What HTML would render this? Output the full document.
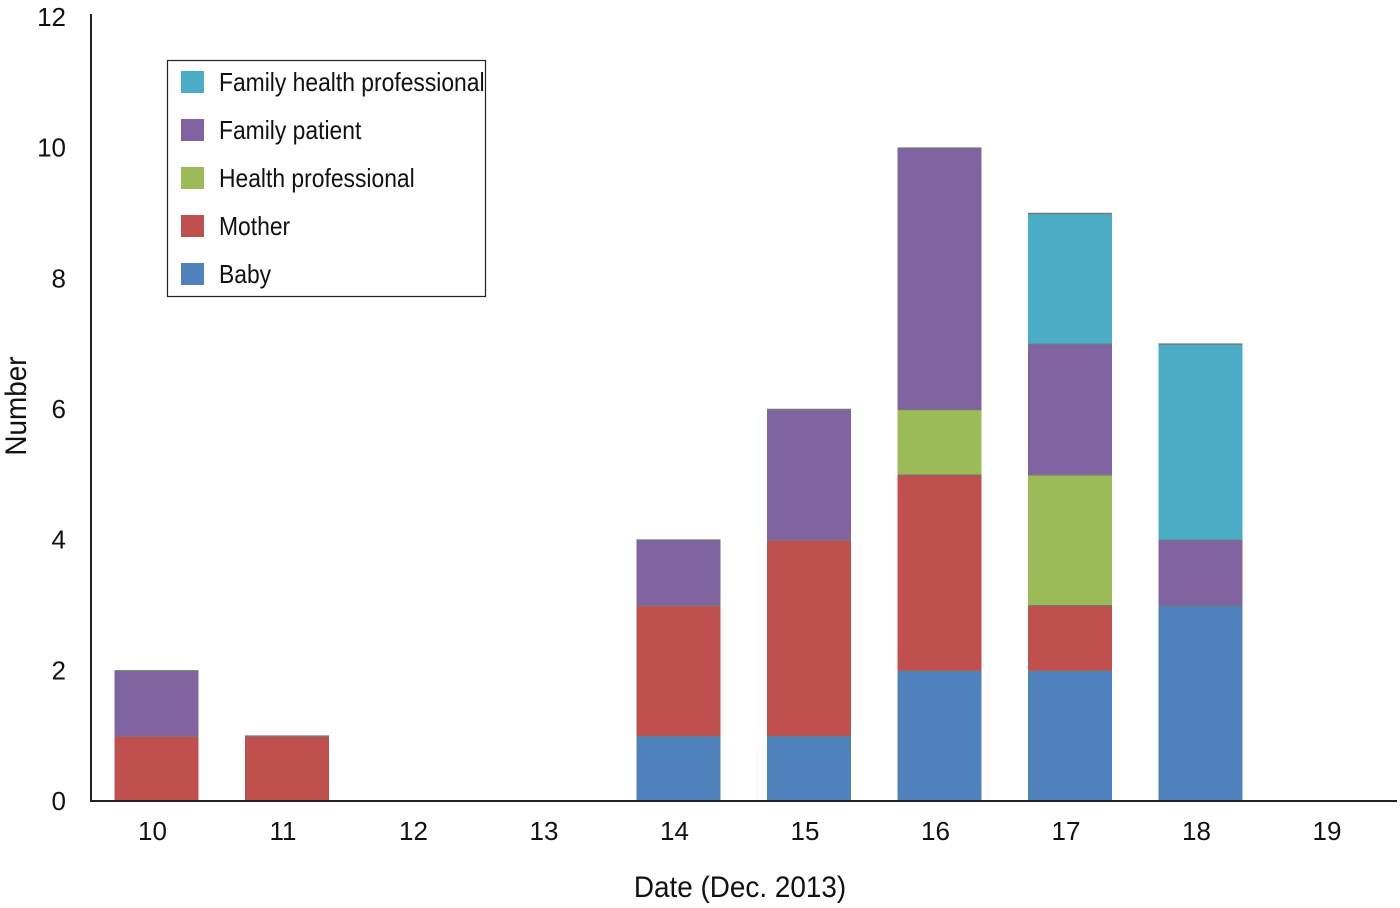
<!DOCTYPE html>
<html><head><meta charset="utf-8"><style>
html,body{margin:0;padding:0;background:#fff;}
svg{display:block;font-family:"Liberation Sans Narrow","Liberation Sans",sans-serif;}
</style></head><body>
<svg id="chart" width="1400" height="908" viewBox="0 0 1400 908" xmlns="http://www.w3.org/2000/svg">
<g id="bars"></g>
<line x1="91" y1="14" x2="91" y2="801" stroke="#222" stroke-width="2"/>
<line x1="90" y1="801" x2="1397" y2="801" stroke="#222" stroke-width="2"/>
<g id="yticks"></g>
<g id="xticks"></g>
<text transform="translate(26,406) rotate(-90) scale(0.93,1)" text-anchor="middle" font-size="30" fill="#111">Number</text>
<text transform="translate(740,897) scale(0.93,1)" text-anchor="middle" font-size="30" fill="#111">Date (Dec. 2013)</text>
<g id="legend">
<rect x="167.5" y="60.5" width="318" height="236" fill="#fff" stroke="#222" stroke-width="1.2"/>
</g>
</svg>
<script>
const categories = ["10","11","12","13","14","15","16","17","18","19"];
const seriesNames = ["Baby","Mother","Health professional","Family patient","Family health professional"];
const baby = [0,0,0,0,1,1,2,2,3,0];
const mother = [1,1,0,0,2,3,3,1,0,0];
const healthProfessional = [0,0,0,0,0,0,1,2,0,0];
const familyPatient = [1,0,0,0,1,2,4,2,1,0];
const familyHealthProfessional = [0,0,0,0,0,0,0,2,3,0];
const yTicks = [0,2,4,6,8,10,12];

const series = [baby, mother, healthProfessional, familyPatient, familyHealthProfessional];
const colors = ["#4f81bd","#c0504d","#9bbb59","#8064a2","#4bacc6"];
const NS = "http://www.w3.org/2000/svg";
const y0 = 801, yTop = 17, yMax = 12;
function yScale(v){ return y0 - v*(y0-yTop)/yMax; }
function xScale(i){ return 156.5 + i*130.5; }
const barW = 84;

const barsG = document.getElementById('bars');
categories.forEach((c,i)=>{
  let acc = 0;
  series.forEach((s,k)=>{
    const v = s[i];
    if(!v) return;
    const r = document.createElementNS(NS,'rect');
    
    
    r.setAttribute('x', xScale(i)-barW/2);
    r.setAttribute('y', yScale(acc+v));
    r.setAttribute('width', barW);
    r.setAttribute('height', yScale(acc)-yScale(acc+v));
    r.setAttribute('fill', colors[k]);
    barsG.appendChild(r);
    const l = document.createElementNS(NS,'line');
    
    
    l.setAttribute('x1', xScale(i)-barW/2); l.setAttribute('x2', xScale(i)+barW/2);
    l.setAttribute('y1', yScale(acc+v)+0.5); l.setAttribute('y2', yScale(acc+v)+0.5);
    l.setAttribute('stroke', '#777'); l.setAttribute('stroke-width','1.5');
    barsG.appendChild(l);
    acc += v;
  });
});

const yG = document.getElementById('yticks');
yTicks.forEach(t=>{
  const tx = document.createElementNS(NS,'text');
  
  
  tx.setAttribute('x', 66); tx.setAttribute('y', yScale(t)+9);
  tx.setAttribute('text-anchor','end'); tx.setAttribute('font-size','26'); tx.setAttribute('fill','#111');
  tx.textContent = t;
  yG.appendChild(tx);
});
const xG = document.getElementById('xticks');
categories.forEach((c,i)=>{
  const tx = document.createElementNS(NS,'text');
  
  
  tx.setAttribute('x', xScale(i)-4); tx.setAttribute('y', 840);
  tx.setAttribute('text-anchor','middle'); tx.setAttribute('font-size','26'); tx.setAttribute('fill','#111');
  tx.textContent = c;
  xG.appendChild(tx);
});
const lg = document.getElementById('legend');
const order = [4,3,2,1,0];
order.forEach((k,j)=>{
  const yy = 82 + j*48;
  const sw = document.createElementNS(NS,'rect');
  
  
  sw.setAttribute('x', 181); sw.setAttribute('y', yy-11); sw.setAttribute('width', 23); sw.setAttribute('height', 22);
  sw.setAttribute('fill', colors[k]);
  lg.appendChild(sw);
  const tx = document.createElementNS(NS,'text');
  
  
  tx.setAttribute('transform', 'translate(219,' + (yy+9) + ') scale(0.88,1)');
  tx.setAttribute('font-size','26'); tx.setAttribute('fill','#111');
  tx.textContent = seriesNames[k];
  lg.appendChild(tx);
});
</script>
</body></html>
